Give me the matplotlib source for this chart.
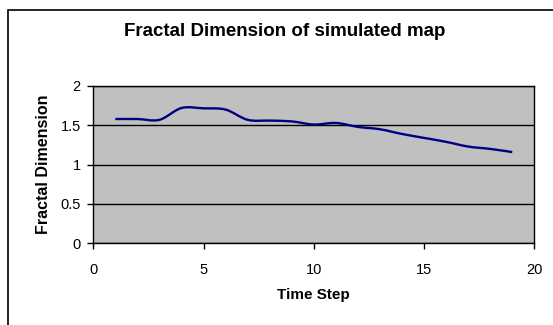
import matplotlib.pyplot as plt
from matplotlib.path import Path
from matplotlib.patches import PathPatch, Rectangle

plt.rcParams['font.family'] = ['Liberation Sans', 'DejaVu Sans']

time_steps = list(range(1, 20))
fractal_dim = [1.58, 1.58, 1.57, 1.72, 1.716, 1.70, 1.57, 1.56, 1.55, 1.51,
               1.53, 1.48, 1.45, 1.39, 1.34, 1.29, 1.23, 1.20, 1.16]
x_ticks = [0, 5, 10, 15, 20]
y_ticks = [0, 0.5, 1, 1.5, 2]


def smooth_path(xs, ys):
    # Excel style smoothed line: cubic bezier through the points
    pts = list(zip(xs, ys))
    verts = [pts[0]]
    codes = [Path.MOVETO]
    n = len(pts)
    for i in range(n - 1):
        p0 = pts[i - 1] if i > 0 else pts[i]
        p1 = pts[i]
        p2 = pts[i + 1]
        p3 = pts[i + 2] if i + 2 < n else pts[i + 1]
        c1 = (p1[0] + (p2[0] - p0[0]) / 6, p1[1] + (p2[1] - p0[1]) / 6)
        c2 = (p2[0] - (p3[0] - p1[0]) / 6, p2[1] - (p3[1] - p1[1]) / 6)
        verts += [c1, c2, p2]
        codes += [Path.CURVE4] * 3
    return Path(verts, codes)


fig = plt.figure(figsize=(5.53, 3.25), dpi=100)
fig.patches.append(Rectangle((8 / 553, -0.1), 1.2, 1 - 10 / 325 + 0.1,
                             transform=fig.transFigure, fill=False,
                             edgecolor='black', linewidth=1.2))

ax = fig.add_axes([0.1687, 0.2514, 0.7975, 0.4840])
ax.set_facecolor('#C0C0C0')
ax.add_patch(PathPatch(smooth_path(time_steps, fractal_dim), fill=False,
                       edgecolor='#000080', linewidth=1.7, zorder=3))
ax.set_xlim(0, 20)
ax.set_ylim(0, 2)
ax.set_xticks(x_ticks)
ax.set_yticks(y_ticks)
ax.set_yticklabels(['0', '0.5', '1', '1.5', '2'])
ax.grid(axis='y', color='black', linewidth=1)
ax.set_axisbelow(True)
for s in ax.spines.values():
    s.set_color('black')
    s.set_linewidth(1)
ax.tick_params(direction='out', length=4, width=1, labelsize=10.5)
ax.tick_params(axis='x', pad=10)
ax.tick_params(axis='y', pad=5)

ax.set_xlabel('Time Step', fontsize=11, fontweight='bold', labelpad=8)
ax.set_ylabel('Fractal Dimension', fontsize=11.5, fontweight='bold', labelpad=7)
fig.text(285 / 553, 1 - 32 / 325, 'Fractal Dimension of simulated map',
         ha='center', va='center', fontsize=13.5, fontweight='bold')

fig.savefig('out.png', dpi=100)
